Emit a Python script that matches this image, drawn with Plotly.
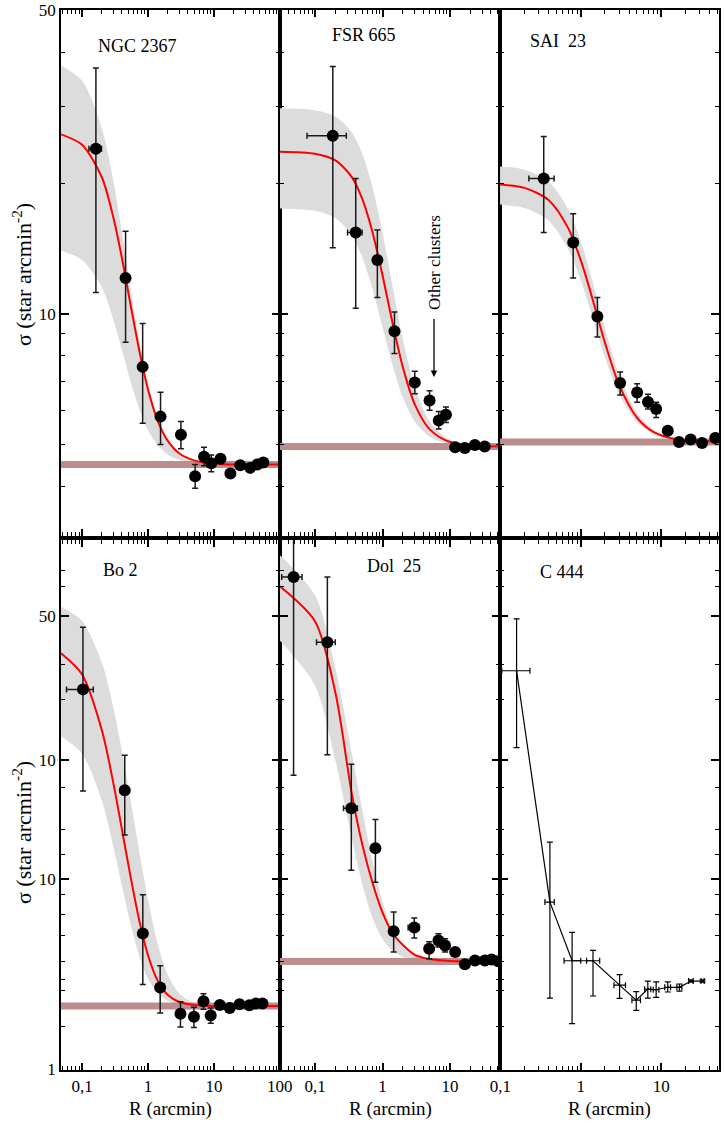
import numpy as np
import plotly.graph_objects as go

# ---------------- data ----------------
titles = ["NGC 2367", "FSR 665", "SAI\u00a0\u00a023", "Bo 2", "Dol\u00a0\u00a025", "C 444"]

# measured profiles: radius, density, error-bar top / bottom, radius error
ngc_r = [0.162, 0.457, 0.83, 1.55, 3.16, 5.19, 7.08, 9.12, 12.6, 17.8, 25.1, 35.5, 45.7, 56.2]
ngc_s = [24.0, 12.1, 7.55, 5.8, 5.27, 4.23, 4.69, 4.53, 4.64, 4.29, 4.48, 4.42, 4.5, 4.55]
ngc_hi = [36.8, 15.5, 9.5, 6.6, 5.65, 4.5, 4.93, 4.73, 4.64, 4.29, 4.48, 4.42, 4.5, 4.55]
ngc_lo = [11.2, 8.6, 5.6, 5.0, 4.89, 3.97, 4.47, 4.33, 4.64, 4.29, 4.48, 4.42, 4.5, 4.55]
ngc_re = [0.035, 0.06, 0.04, 0.15, 0.3, 0, 0, 0, 0, 0, 0, 0, 0, 0]

fsr_r = [0.183, 0.40, 0.837, 1.5, 3.0, 4.97, 6.79, 8.69, 11.9, 16.6, 23.3, 32.6]
fsr_s = [25.7, 15.4, 13.3, 9.12, 6.95, 6.32, 5.68, 5.86, 4.93, 4.91, 4.99, 4.95]
fsr_hi = [37.1, 20.5, 15.6, 10.1, 7.38, 6.65, 5.96, 6.1, 4.93, 4.91, 4.99, 4.95]
fsr_lo = [14.2, 10.3, 10.9, 8.1, 6.55, 6.0, 5.43, 5.62, 4.93, 4.91, 4.99, 4.95]
fsr_re = [0.107, 0.097, 0.04, 0.1, 0.3, 0, 0, 0, 0, 0, 0, 0]

sai_r = [0.346, 0.805, 1.61, 3.09, 5.03, 6.86, 8.67, 12.1, 16.7, 23.3, 32.3, 47.1]
sai_s = [20.5, 14.6, 9.86, 6.93, 6.59, 6.27, 6.04, 5.38, 5.07, 5.14, 5.04, 5.18]
sai_hi = [25.6, 17.0, 10.9, 7.35, 6.9, 6.53, 6.26, 5.38, 5.07, 5.14, 5.04, 5.18]
sai_lo = [15.4, 12.1, 8.85, 6.5, 6.26, 6.04, 5.77, 5.38, 5.07, 5.14, 5.04, 5.18]
sai_re = [0.12, 0.06, 0.1, 0.2, 0, 0, 0, 0, 0, 0, 0, 0]

bo_r = [0.103, 0.444, 0.834, 1.53, 3.11, 4.98, 6.95, 8.94, 12.3, 17.4, 24.5, 34.5, 43.4, 54.6]
bo_s = [99.0, 29.2, 5.17, 2.69, 1.96, 1.89, 2.28, 1.92, 2.18, 2.10, 2.20, 2.17, 2.22, 2.22]
bo_hi = [210, 44.7, 8.26, 3.5, 2.27, 2.12, 2.5, 2.1, 2.18, 2.10, 2.20, 2.17, 2.22, 2.22]
bo_lo = [29.0, 17.0, 2.79, 1.98, 1.67, 1.66, 2.07, 1.75, 2.18, 2.10, 2.20, 2.17, 2.22, 2.22]
bo_re = [0.045, 0.05, 0.03, 0.2, 0.4, 0, 0, 0, 0, 0, 0, 0, 0, 0]

dol_r = [0.048, 0.152, 0.344, 0.783, 1.46, 2.95, 4.9, 6.73, 8.43, 11.9, 16.6, 23.4, 32.8, 41.1, 51.6]
dol_s = [385, 175, 23.5, 14.5, 5.32, 5.57, 4.3, 4.75, 4.47, 4.14, 3.57, 3.73, 3.73, 3.78, 3.7]
dol_hi = [700, 385, 40, 20.5, 6.7, 6.24, 4.68, 5.15, 4.86, 4.14, 3.57, 3.73, 3.73, 3.78, 3.7]
dol_lo = [35, 44.9, 11.1, 9.6, 4.14, 4.9, 3.81, 4.4, 4.14, 4.14, 3.57, 3.73, 3.73, 3.78, 3.7]
dol_re = [0.016, 0.047, 0.08, 0.03, 0.1, 0.56, 0, 0, 0, 0, 0, 0, 0, 0, 0]

c444_r = [0.159, 0.413, 0.78, 1.42, 3.04, 4.9, 6.83, 8.67, 12.1, 16.9, 23.5, 32.8]
c444_s = [124, 7.56, 3.72, 3.72, 2.77, 2.31, 2.64, 2.62, 2.70, 2.70, 2.91, 2.91]
c444_hi = [232, 15.6, 5.25, 4.22, 3.15, 2.56, 2.91, 2.88, 2.88, 2.81, 2.95, 2.95]
c444_lo = [49, 2.37, 1.74, 2.43, 2.36, 2.04, 2.37, 2.39, 2.55, 2.58, 2.87, 2.87]
c444_rm = [0.055, 0.055, 0.16, 0.24, 0.45, 0.57, 0.6, 0.7, 1.0, 1.2, 1.5, 1.5]
c444_rp = [0.074, 0.055, 0.22, 0.3, 0.56, 0.63, 0.6, 0.7, 1.0, 1.2, 1.5, 1.5]

# background density levels (brown bands)
bg_level = [4.5, 4.95, 5.07, 2.15, 3.69]

# fitted profile (red) and its uncertainty band (grey)
ngc_fr = [0.048, 0.1, 0.2, 0.3, 0.4, 0.55, 0.75, 1.0, 1.4, 2, 3, 5, 10, 100]
ngc_fit = [25.9, 24.5, 20.6, 16.6, 13.5, 10.4, 8.13, 6.7, 5.68, 5.10, 4.77, 4.60, 4.52, 4.5]
ngc_btop = [37.3, 34.4, 26.7, 20.1, 15.5, 11.3, 8.56, 6.91, 5.78, 5.14, 4.79, 4.60, 4.53, 4.5]
ngc_bbot = [14.0, 13.3, 11.5, 9.66, 8.29, 6.95, 6.0, 5.4, 4.98, 4.74, 4.61, 4.54, 4.51, 4.5]

fsr_fr = [0.03, 0.1, 0.2, 0.35, 0.5, 0.7, 1.0, 1.4, 2, 3, 5, 10, 55]
fsr_fit = [23.62, 23.36, 22.55, 20.65, 18.4, 15.54, 12.25, 9.55, 7.53, 6.19, 5.42, 5.07, 4.95]
fsr_btop = [29.72, 29.41, 28.45, 26.15, 23.37, 19.73, 15.35, 11.63, 8.74, 6.79, 5.65, 5.13, 4.96]
fsr_bbot = [17.48, 17.27, 16.62, 15.15, 13.49, 11.49, 9.31, 7.63, 6.43, 5.65, 5.21, 5.02, 4.95]

sai_fr = [0.099, 0.2, 0.4, 0.7, 1.0, 1.4, 2, 3, 5, 8, 15, 52]
sai_fit = [19.85, 19.50, 18.26, 15.73, 13.29, 10.82, 8.58, 6.86, 5.77, 5.35, 5.15, 5.08]
sai_btop = [21.85, 21.47, 20.15, 17.40, 14.69, 11.88, 9.27, 7.24, 5.92, 5.41, 5.17, 5.08]
sai_bbot = [17.86, 17.53, 16.39, 14.10, 11.96, 9.83, 7.94, 6.53, 5.64, 5.30, 5.14, 5.08]

bo_fr = [0.048, 0.1, 0.2, 0.3, 0.4, 0.55, 0.75, 1.0, 1.4, 2, 3, 5, 10, 100]
bo_fit = [153.1, 118.5, 60.2, 31.5, 18.4, 10.07, 5.90, 3.98, 2.93, 2.46, 2.26, 2.18, 2.155, 2.15]
bo_btop = [268.7, 226.5, 136.4, 78.5, 47.5, 25.4, 13.5, 7.80, 4.58, 3.13, 2.50, 2.24, 2.165, 2.15]
bo_bbot = [56.1, 45.5, 25.7, 14.68, 9.31, 5.71, 3.86, 2.99, 2.51, 2.29, 2.20, 2.163, 2.153, 2.15]

dol_fr = [0.03, 0.1, 0.2, 0.35, 0.5, 0.7, 1.0, 1.4, 2, 3, 5, 10, 55]
dol_fit = [344, 225, 95, 28, 15.2, 9.7, 6.65, 5.2, 4.5, 4.0, 3.8, 3.71, 3.69]
dol_btop = [502.7, 307.7, 127.4, 45.9, 23.06, 12.66, 7.58, 5.44, 4.5, 4.0, 3.8, 3.71, 3.69]
dol_bbot = [178.5, 103.5, 41.8, 16.3, 9.41, 6.33, 4.83, 4.20, 3.91, 3.77, 3.71, 3.695, 3.69]

# ---------------- layout geometry ----------------
W, H = 724, 1125
ML, MR, MT, MB = 61, 5, 10, 55
PW, PH = W - ML - MR, H - MT - MB


def fx(x):
    return (x - ML) / PW


def fy(y):
    return (H - MB - y) / PH


col_px = [(61, 280), (280, 500), (500, 719)]
row_px = [(10, 536), (540, 1070)]
x_ranges = [[-1.32, 2.003], [-1.52, 1.74], [-1.005, 1.72]]
y_ranges = [[0.4886, 1.6995], [-0.003, 2.78]]
x_major = [[0.1, 1, 10, 100], [0.1, 1, 10], [0.1, 1, 10]]
x_major_txt = [["0,1", "1", "10", "100"], ["0,1", "1", "10"], ["0,1", "1", "10"]]

FONT = "Liberation Serif"
GRAY = "#dcdcdc"
BROWN = "#bc8d8d"
RED = "#ff0000"
INK = "#1a1a1a"

fig = go.Figure()

points = [
    (ngc_r, ngc_s, ngc_hi, ngc_lo, ngc_re),
    (fsr_r, fsr_s, fsr_hi, fsr_lo, fsr_re),
    (sai_r, sai_s, sai_hi, sai_lo, sai_re),
    (bo_r, bo_s, bo_hi, bo_lo, bo_re),
    (dol_r, dol_s, dol_hi, dol_lo, dol_re),
]
curves = [
    (ngc_fr, ngc_fit, ngc_btop, ngc_bbot),
    (fsr_fr, fsr_fit, fsr_btop, fsr_bbot),
    (sai_fr, sai_fit, sai_btop, sai_bbot),
    (bo_fr, bo_fit, bo_btop, bo_bbot),
    (dol_fr, dol_fit, dol_btop, dol_bbot),
]

for i in range(6):
    row, col = divmod(i, 3)
    ax = "" if i == 0 else str(i + 1)
    xa, ya = "x" + ax, "y" + ax
    xr = x_ranges[col]
    if i < 5:
        r, s, hi, lo, re = points[i]
        fr, fit, btop, bbot = curves[i]
        fig.add_trace(go.Scatter(x=list(fr) + list(fr[::-1]), y=list(btop) + list(bbot[::-1]),
                                 fill="toself", fillcolor=GRAY, mode="lines",
                                 line=dict(width=0, shape="spline", smoothing=0.8),
                                 hoverinfo="skip", showlegend=False, xaxis=xa, yaxis=ya))
        fig.add_trace(go.Scatter(x=[10 ** xr[0], 10 ** xr[1]], y=[bg_level[i], bg_level[i]], mode="lines",
                                 line=dict(color=BROWN, width=7), showlegend=False, xaxis=xa, yaxis=ya))
        fig.add_trace(go.Scatter(x=fr, y=fit, mode="lines",
                                 line=dict(color=RED, width=2, shape="spline", smoothing=0.8),
                                 showlegend=False, xaxis=xa, yaxis=ya))
        s_a = np.array(s)
        fig.add_trace(go.Scatter(
            x=r, y=s, mode="markers", marker=dict(color="black", size=12),
            error_y=dict(type="data", symmetric=False, array=list(np.array(hi) - s_a),
                         arrayminus=list(s_a - np.array(lo)), color=INK, thickness=1.5, width=3),
            error_x=dict(type="data", array=re, color=INK, thickness=1.5, width=3),
            showlegend=False, xaxis=xa, yaxis=ya))
    else:
        s_a = np.array(c444_s)
        fig.add_trace(go.Scatter(
            x=c444_r, y=c444_s, mode="lines+markers", line=dict(color="black", width=1.2),
            marker=dict(color="black", size=2),
            error_y=dict(type="data", symmetric=False, array=list(np.array(c444_hi) - s_a),
                         arrayminus=list(s_a - np.array(c444_lo)), color="black", thickness=1.2, width=3),
            error_x=dict(type="data", symmetric=False, array=c444_rp, arrayminus=c444_rm,
                         color="black", thickness=1.2, width=3),
            showlegend=False, xaxis=xa, yaxis=ya))

x_minor = [k * 10.0 ** e for e in range(-2, 3) for k in range(2, 10)]
top_minor = [4, 5, 6, 7, 8, 9, 20, 30, 40]
bot_minor = [1.68, 2.6, 2.97, 3.7, 5.06, 6.5, 8.3, 13.5, 18.2, 30.3, 88, 133, 345, 419]

axis_common = dict(type="log", showgrid=False, zeroline=False, showline=True, linecolor="black",
                   linewidth=1.5, mirror="ticks", ticks="inside", tickcolor="black", tickwidth=1.5,
                   automargin=False, tickfont=dict(family=FONT, size=17, color="black"))

layout = {}
for i in range(6):
    row, col = divmod(i, 3)
    ax = "" if i == 0 else str(i + 1)
    c0, c1 = col_px[col]
    r0, r1 = row_px[row]
    xd = dict(axis_common)
    xd.update(domain=[fx(c0), fx(c1)], range=x_ranges[col], anchor="y" + ax,
              tickmode="array", tickvals=x_major[col], ticktext=x_major_txt[col],
              ticklen=7, showticklabels=(row == 1),
              minor=dict(tickmode="array", tickvals=x_minor, ticks="inside", ticklen=4,
                         tickcolor="black", tickwidth=1))
    yd = dict(axis_common)
    if row == 0:
        yd.update(tickmode="array", tickvals=[10, 50], ticktext=["10", "50"],
                  minor=dict(tickmode="array", tickvals=top_minor, ticks="inside", ticklen=4,
                             tickcolor="black", tickwidth=1))
    else:
        yd.update(tickmode="array", tickvals=[1, 10, 42.1, 240], ticktext=["1", "10", "10", "50"],
                  minor=dict(tickmode="array", tickvals=bot_minor, ticks="inside", ticklen=4,
                             tickcolor="black", tickwidth=1))
    yd.update(domain=[fy(r1), fy(r0)], range=y_ranges[row], anchor="x" + ax, ticklen=8,
              showticklabels=(col == 0))
    layout["xaxis" + ax] = xd
    layout["yaxis" + ax] = yd

fig.update_layout(**layout)

ann = []
title_px = [(137.6, 46), (364, 35), (558, 41), (120, 570), (393.5, 566), (562, 572)]
for t, (px, py) in zip(titles, title_px):
    ann.append(dict(text=t, x=fx(px), y=fy(py), xref="paper", yref="paper", showarrow=False,
                    font=dict(family=FONT, size=18, color="black"), xanchor="center", yanchor="middle"))
for cy in (275, 833):
    ann.append(dict(text="σ (star arcmin<sup>-2</sup>)", x=fx(22), y=fy(cy), xref="paper", yref="paper",
                    showarrow=False, textangle=-90, font=dict(family=FONT, size=22, color="black"),
                    xanchor="center", yanchor="middle"))
for c0, c1 in col_px:
    ann.append(dict(text="R (arcmin)", x=fx((c0 + c1) / 2), y=fy(1109), xref="paper", yref="paper",
                    showarrow=False, font=dict(family=FONT, size=19, color="black"),
                    xanchor="center", yanchor="middle"))
# "Other clusters" label with its downward arrow
ann.append(dict(text="Other clusters", x=fx(434), y=fy(377), xref="paper", yref="paper",
                showarrow=True, ax=0, ay=-115, textangle=-90, startstandoff=8,
                arrowhead=2, arrowsize=1, arrowwidth=1.3, arrowcolor="black",
                font=dict(family=FONT, size=17, color="black")))

fig.update_layout(width=W, height=H, margin=dict(l=ML, r=MR, t=MT, b=MB, autoexpand=False),
                  paper_bgcolor="white", plot_bgcolor="white", annotations=ann, showlegend=False)

fig.write_html("out.html", config={"displayModeBar": False},
               post_script="document.body.style.margin='0px';")
